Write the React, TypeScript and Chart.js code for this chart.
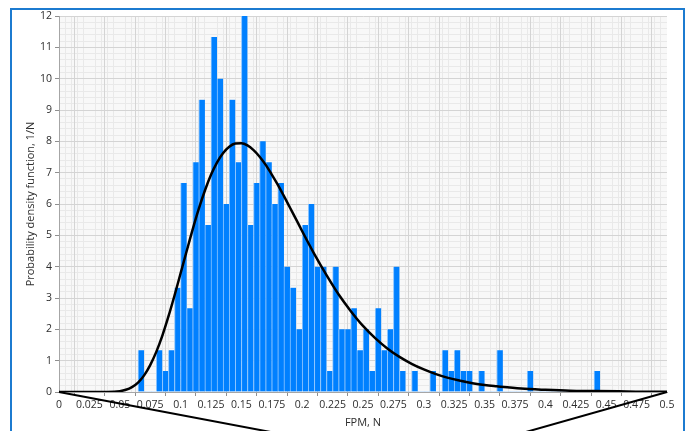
import React, { useEffect, useRef } from 'react';
import { Chart, registerables } from 'chart.js';

Chart.register(...registerables);

// ---- data ----
const binStart = 0.065; // left edge of the first histogram bin
const binWidth = 0.005;
const densityValues = [
  1.33, 0, 0, 1.33, 0.67, 1.33, 3.33, 6.67, 2.67, 7.33,
  9.33, 5.33, 11.33, 10, 6, 9.33, 7.33, 12, 5.33, 6.67,
  8, 7.33, 6, 6.67, 4, 3.33, 2, 5.33, 6, 4,
  4, 0.67, 4, 2, 2, 2.67, 1.33, 2, 0.67, 2.67,
  1.33, 2, 4, 0.67, 0, 0.67, 0, 0, 0.67, 0,
  1.33, 0.67, 1.33, 0.67, 0.67, 0, 0.67, 0, 0, 1.33,
  0, 0, 0, 0, 0.67, 0, 0, 0, 0, 0,
  0, 0, 0, 0, 0, 0.67,
];

const curveX = [
  0, 0.025, 0.04, 0.05, 0.055, 0.06, 0.065, 0.07, 0.075, 0.08,
  0.085, 0.09, 0.095, 0.1, 0.105, 0.11, 0.115, 0.12, 0.125, 0.13,
  0.135, 0.14, 0.145, 0.15, 0.155, 0.16, 0.165, 0.17, 0.175, 0.18,
  0.185, 0.19, 0.195, 0.2, 0.21, 0.22, 0.23, 0.24, 0.25, 0.26,
  0.27, 0.28, 0.29, 0.3, 0.31, 0.32, 0.33, 0.34, 0.35, 0.36,
  0.38, 0.4, 0.42, 0.44, 0.46, 0.48, 0.5,
];
const curveY = [
  0, 0, 0.002, 0.027, 0.07, 0.156, 0.3, 0.53, 0.86, 1.28,
  1.8, 2.41, 3.08, 3.79, 4.5, 5.2, 5.85, 6.43, 6.93, 7.33,
  7.63, 7.83, 7.93, 7.94, 7.87, 7.72, 7.51, 7.25, 6.94, 6.61,
  6.25, 5.88, 5.51, 5.13, 4.4, 3.73, 3.11, 2.58, 2.11, 1.72,
  1.39, 1.12, 0.9, 0.72, 0.57, 0.45, 0.36, 0.28, 0.22, 0.18,
  0.11, 0.07, 0.04, 0.03, 0.02, 0.01, 0.01,
];

// stray black polyline that runs below the plot in the reference
const strayX = [0, 0.3, 0.5];
const strayY = [0, -2.2, 0];

const xMin = 0;
const xMax = 0.5;
const xStep = 0.025;
const yMin = 0;
const yMax = 12;
const yStep = 1;
const xMinorStep = 0.005;
const yMinorStep = 0.2;
const xTitle = 'FPM, N';
const yTitle = 'Probability density function, 1/N';

const FONT = '"Open Sans", "Noto Sans", "DejaVu Sans", sans-serif';
const TEXT = '#2e2e2e';

export default function App() {
  const ref = useRef<HTMLCanvasElement | null>(null);

  useEffect(() => {
    if (!ref.current) return;
    const bins = densityValues.map((y, i) => ({
      x: +(binStart + binWidth * (i + 0.5)).toFixed(4),
      y,
    }));
    const curve = curveX.map((x, i) => ({ x, y: curveY[i] }));
    const stray = strayX.map((x, i) => ({ x, y: strayY[i] }));

    const align = (p: number) => Math.round(p - 0.5) + 0.5;

    const plotBg = {
      id: 'plotBg',
      beforeDraw(chart: any) {
        const { ctx, chartArea: a, scales } = chart;
        ctx.save();
        ctx.fillStyle = '#f8f8f8';
        ctx.fillRect(a.left, a.top, a.right - a.left, a.bottom - a.top);
        ctx.strokeStyle = '#e9e9e9';
        ctx.lineWidth = 1;
        ctx.beginPath();
        const nx = Math.round((xMax - xMin) / xMinorStep);
        const per = Math.round(xStep / xMinorStep);
        for (let i = 1; i < nx; i++) {
          if (i % per === 0) continue;
          const px = align(scales.x.getPixelForValue(xMin + i * xMinorStep));
          ctx.moveTo(px, a.top);
          ctx.lineTo(px, a.bottom);
        }
        const ny = Math.round((yMax - yMin) / yMinorStep);
        const perY = Math.round(yStep / yMinorStep);
        for (let j = 1; j < ny; j++) {
          if (j % perY === 0) continue;
          const py = align(scales.y.getPixelForValue(yMin + j * yMinorStep));
          ctx.moveTo(a.left, py);
          ctx.lineTo(a.right, py);
        }
        ctx.stroke();
        ctx.restore();
      },
    };

    const chart = new Chart(ref.current, {
      type: 'bar',
      data: {
        datasets: [
          {
            type: 'line',
            data: stray as any,
            borderColor: '#000000',
            borderWidth: 2,
            pointRadius: 0,
            clip: false as any,
            order: 0,
          } as any,
          {
            type: 'line',
            data: curve as any,
            borderColor: '#000000',
            borderWidth: 2.5,
            pointRadius: 0,
            cubicInterpolationMode: 'monotone',
            order: 1,
          } as any,
          {
            type: 'bar',
            data: bins as any,
            backgroundColor: (c: any) => (c.raw && c.raw.y === 0 ? '#9ccdff' : '#0080ff'),
            borderColor: '#8cc5ff',
            borderWidth: { left: 1, right: 0, top: 0, bottom: 0 },
            borderSkipped: false,
            minBarLength: 1,
            barPercentage: 1,
            categoryPercentage: 1,
            order: 2,
          } as any,
        ],
      },
      options: {
        animation: false,
        responsive: false,
        devicePixelRatio: 1,
        events: [],
        layout: { padding: { left: 0, top: 16, right: 22, bottom: 0 } },
        plugins: {
          legend: { display: false },
          tooltip: { enabled: false },
        },
        scales: {
          x: {
            type: 'linear',
            min: xMin,
            max: xMax,
            offset: false,
            grid: {
              color: '#d4d4d4',
              tickColor: '#8f8f8f',
              tickLength: 4,
              drawTicks: true,
            },
            border: { color: '#a6a6a6', width: 1 },
            ticks: {
              stepSize: xStep,
              autoSkip: false,
              maxRotation: 0,
              padding: 3,
              color: TEXT,
              font: { family: FONT, size: 10.5 },
              callback: (v: any) => String(+Number(v).toFixed(3)),
            },
            title: {
              display: true,
              text: xTitle,
              color: TEXT,
              font: { family: FONT, size: 11 },
              padding: { top: 0, bottom: 2 },
            },
            afterFit: (s: any) => {
              s.height = 39;
            },
          },
          y: {
            type: 'linear',
            min: yMin,
            max: yMax,
            grid: {
              color: '#d4d4d4',
              tickColor: '#8f8f8f',
              tickLength: 4,
              drawTicks: true,
            },
            border: { color: '#a6a6a6', width: 1 },
            ticks: {
              stepSize: yStep,
              padding: 3,
              color: TEXT,
              font: { family: FONT, size: 10.5 },
            },
            title: {
              display: true,
              text: yTitle,
              color: TEXT,
              font: { family: FONT, size: 11 },
              padding: { top: 24, bottom: 0 },
            },
            afterFit: (s: any) => {
              s.width = 59;
            },
          },
        },
      },
      plugins: [plotBg],
    } as any);

    return () => chart.destroy();
  }, []);

  return (
    <div style={{ position: 'absolute', left: 0, top: 0, width: 689, height: 431, overflow: 'hidden', background: '#ffffff' }}>
      <canvas ref={ref} width={689} height={431} style={{ display: 'block', width: 689, height: 431 }} />
      <div
        style={{
          position: 'absolute',
          left: 10,
          top: 8,
          width: 675,
          height: 423,
          boxSizing: 'border-box',
          borderTop: '2px solid #1c7bd0',
          borderLeft: '2px solid #1c7bd0',
          borderRight: '2px solid #1c7bd0',
          pointerEvents: 'none',
        }}
      />
    </div>
  );
}
